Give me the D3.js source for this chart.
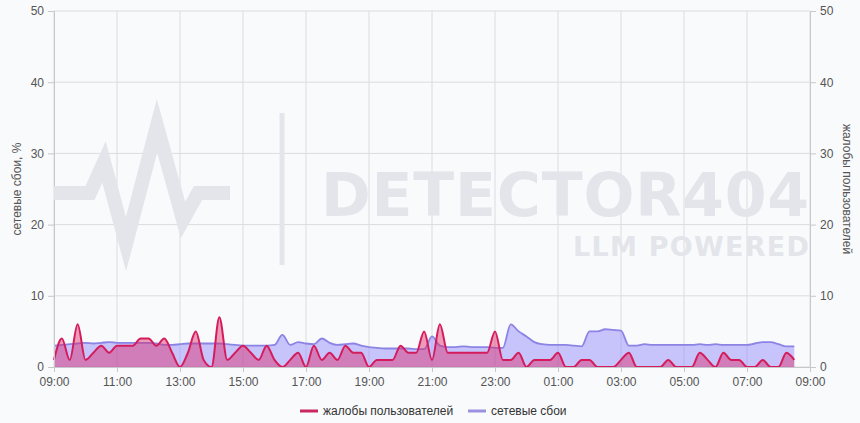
<!DOCTYPE html>
<html>
<head>
<meta charset="utf-8">
<script src="https://cdn.jsdelivr.net/npm/d3@7"></script>
<style>
  html, body { margin: 0; padding: 0; background: #f9fafc; }
  svg { display: block; font-family: "Liberation Sans", Arial, sans-serif; }
  .axis text { fill: #555; font-size: 12px; }
  .axis path, .axis line { stroke: #c8c8cc; }
  .grid line { stroke: #dcdce0; }
</style>
</head>
<body>
<div id="chart"></div>
<script>
// 15-minute samples starting 09:00
var startTime = "2024-01-01T09:00:00";
var endTime = "2024-01-02T09:00:00";
var stepMinutes = 15;

var complaints = [1, 4, 1, 6, 1, 2, 3, 2, 3, 3, 3, 4, 4, 3, 4, 2, 0, 2, 5, 1,
    0, 7, 1, 2, 3, 2, 1, 3, 1, 0, 1, 2, 0, 3, 1, 2, 1, 3, 2, 2,
    0, 1, 1, 1, 3, 2, 2, 5, 1, 6, 2, 2, 2, 2, 2, 2, 5, 1, 1, 2,
    0, 1, 1, 1, 2, 0, 0, 1, 1, 0, 0, 0, 1, 2, 0, 0, 0, 0, 1, 0,
    0, 0, 2, 1, 0, 2, 1, 1, 0, 0, 1, 0, 0, 2, 1];

var network = [3.0, 3.1, 3.2, 3.3, 3.4, 3.3, 3.4, 3.5, 3.4, 3.4, 3.4, 3.4, 3.4, 3.3, 3.1, 3.1, 3.2, 3.3, 3.3, 3.3,
    3.3, 3.3, 3.2, 3.1, 3.0, 3.0, 3.0, 3.0, 3.1, 4.5, 3.1, 3.5, 3.3, 3.2, 4.0, 3.4, 3.1, 3.2, 3.3, 3.0,
    2.8, 2.7, 2.6, 2.6, 2.6, 2.6, 2.5, 2.5, 4.3, 3.0, 2.8, 2.8, 2.9, 2.8, 2.8, 2.8, 2.7, 2.7, 6.0, 5.0,
    4.3, 3.5, 3.2, 3.1, 3.1, 3.1, 3.0, 2.9, 5.0, 5.0, 5.3, 5.2, 5.1, 3.0, 3.0, 3.2, 3.1, 3.1, 3.1, 3.1,
    3.1, 3.1, 3.2, 3.1, 3.2, 3.1, 3.1, 3.1, 3.1, 3.3, 3.5, 3.5, 3.2, 2.9, 2.9];

var yTicks = [0, 10, 20, 30, 40, 50];
var seriesNames = ["жалобы пользователей", "сетевые сбои"];
var leftTitle = "сетевые сбои, %";
var rightTitle = "жалобы пользователей";

var margin = { top: 11, right: 50, bottom: 56, left: 54 },
    width = 860 - margin.left - margin.right,
    height = 423 - margin.top - margin.bottom;

var t0 = new Date(startTime);
var t1 = new Date(endTime);
var points = complaints.map(function (c, i) {
    return { t: new Date(t0.getTime() + i * stepMinutes * 60000), c: c, n: network[i] };
});

var svg = d3.select("#chart")
    .append("svg")
    .attr("width", 860)
    .attr("height", 423);

var chart = svg.append("g")
    .attr("transform", "translate(" + margin.left + "," + margin.top + ")");

var xScale = d3.scaleTime()
    .domain([t0, t1])
    .range([0, width]);

var yScale = d3.scaleLinear()
    .domain([0, 50])
    .range([height, 0]);

// every 2 hours starting from 09:00
var xTicks = d3.timeHour.range(t0, new Date(t1.getTime() + 1), 2);

// grid
var grid = chart.append("g").attr("class", "grid");
grid.selectAll("line.h")
    .data(yTicks)
    .enter()
    .append("line")
    .attr("class", "h")
    .attr("x1", 0)
    .attr("x2", width)
    .attr("y1", function (d) { return yScale(d); })
    .attr("y2", function (d) { return yScale(d); });

grid.selectAll("line.v")
    .data(xTicks)
    .enter()
    .append("line")
    .attr("class", "v")
    .attr("x1", function (d) { return xScale(d); })
    .attr("x2", function (d) { return xScale(d); })
    .attr("y1", 0)
    .attr("y2", height);

// watermark
var wm = svg.append("g").attr("fill", "#e3e5ea").attr("stroke", "#e3e5ea");
wm.append("polyline")
    .attr("points", "54,193 90,193 104,162 126,244 157,126 183,220 198,193 230,193")
    .attr("fill", "none")
    .attr("stroke-width", 14);
wm.append("line")
    .attr("x1", 282).attr("x2", 282)
    .attr("y1", 113).attr("y2", 265)
    .attr("stroke-width", 5);
wm.append("text")
    .attr("x", 809).attr("y", 216)
    .attr("stroke", "none")
    .attr("text-anchor", "end")
    .style("font-family", "'DejaVu Sans', sans-serif")
    .style("font-weight", "bold")
    .style("font-size", "60px")
    .attr("textLength", 488)
    .text("DETECTOR404");
wm.append("text")
    .attr("x", 809).attr("y", 256)
    .attr("stroke", "none")
    .attr("text-anchor", "end")
    .style("font-family", "'DejaVu Sans', sans-serif")
    .style("font-weight", "bold")
    .style("font-size", "27px")
    .attr("textLength", 236)
    .text("LLM POWERED");

// areas
var curve = d3.curveMonotoneX;

var netArea = d3.area()
    .curve(curve)
    .x(function (d) { return xScale(d.t); })
    .y0(yScale(0))
    .y1(function (d) { return yScale(d.n); });
var netLine = d3.line()
    .curve(curve)
    .x(function (d) { return xScale(d.t); })
    .y(function (d) { return yScale(d.n); });

var compArea = d3.area()
    .curve(curve)
    .x(function (d) { return xScale(d.t); })
    .y0(yScale(0))
    .y1(function (d) { return yScale(d.c); });
var compLine = d3.line()
    .curve(curve)
    .x(function (d) { return xScale(d.t); })
    .y(function (d) { return yScale(d.c); });

chart.append("path")
    .datum(points)
    .attr("d", netArea)
    .attr("fill", "rgba(150, 140, 250, 0.5)");
chart.append("path")
    .datum(points)
    .attr("d", netLine)
    .attr("fill", "none")
    .attr("stroke", "#8c84e4")
    .attr("stroke-width", 1.8);

chart.append("path")
    .datum(points)
    .attr("d", compArea)
    .attr("fill", "rgba(222, 40, 104, 0.45)");
chart.append("path")
    .datum(points)
    .attr("d", compLine)
    .attr("fill", "none")
    .attr("stroke", "#d41c5c")
    .attr("stroke-width", 2);

// axes
chart.append("g")
    .attr("class", "x axis")
    .attr("transform", "translate(0," + height + ")")
    .call(d3.axisBottom(xScale)
        .tickValues(xTicks)
        .tickFormat(d3.timeFormat("%H:%M"))
        .tickSize(5)
        .tickPadding(5));

chart.append("g")
    .attr("class", "y axis")
    .call(d3.axisLeft(yScale)
        .tickValues(yTicks)
        .tickSize(6)
        .tickPadding(4));

chart.append("g")
    .attr("class", "y2 axis")
    .attr("transform", "translate(" + width + ",0)")
    .call(d3.axisRight(yScale)
        .tickValues(yTicks)
        .tickSize(6)
        .tickPadding(4));

// axis titles
svg.append("text")
    .attr("transform", "translate(21," + (margin.top + height / 2) + ") rotate(-90)")
    .attr("text-anchor", "middle")
    .style("font-size", "12px")
    .attr("fill", "#555")
    .text(leftTitle);

svg.append("text")
    .attr("transform", "translate(843," + (margin.top + height / 2) + ") rotate(90)")
    .attr("text-anchor", "middle")
    .style("font-size", "12px")
    .attr("fill", "#555")
    .text(rightTitle);

// legend
var legendColors = ["#c8285e", "#9a92e0"];
var legendX = [300, 468];
var legend = svg.append("g").attr("transform", "translate(0,411)");
seriesNames.forEach(function (name, i) {
    legend.append("line")
        .attr("x1", legendX[i]).attr("x2", legendX[i] + 18)
        .attr("y1", 0).attr("y2", 0)
        .attr("stroke", legendColors[i])
        .attr("stroke-width", 3);
    legend.append("text")
        .attr("x", legendX[i] + 23)
        .attr("y", 4)
        .style("font-size", "12px")
        .attr("fill", "#333")
        .text(name);
});
</script>
</body>
</html>
